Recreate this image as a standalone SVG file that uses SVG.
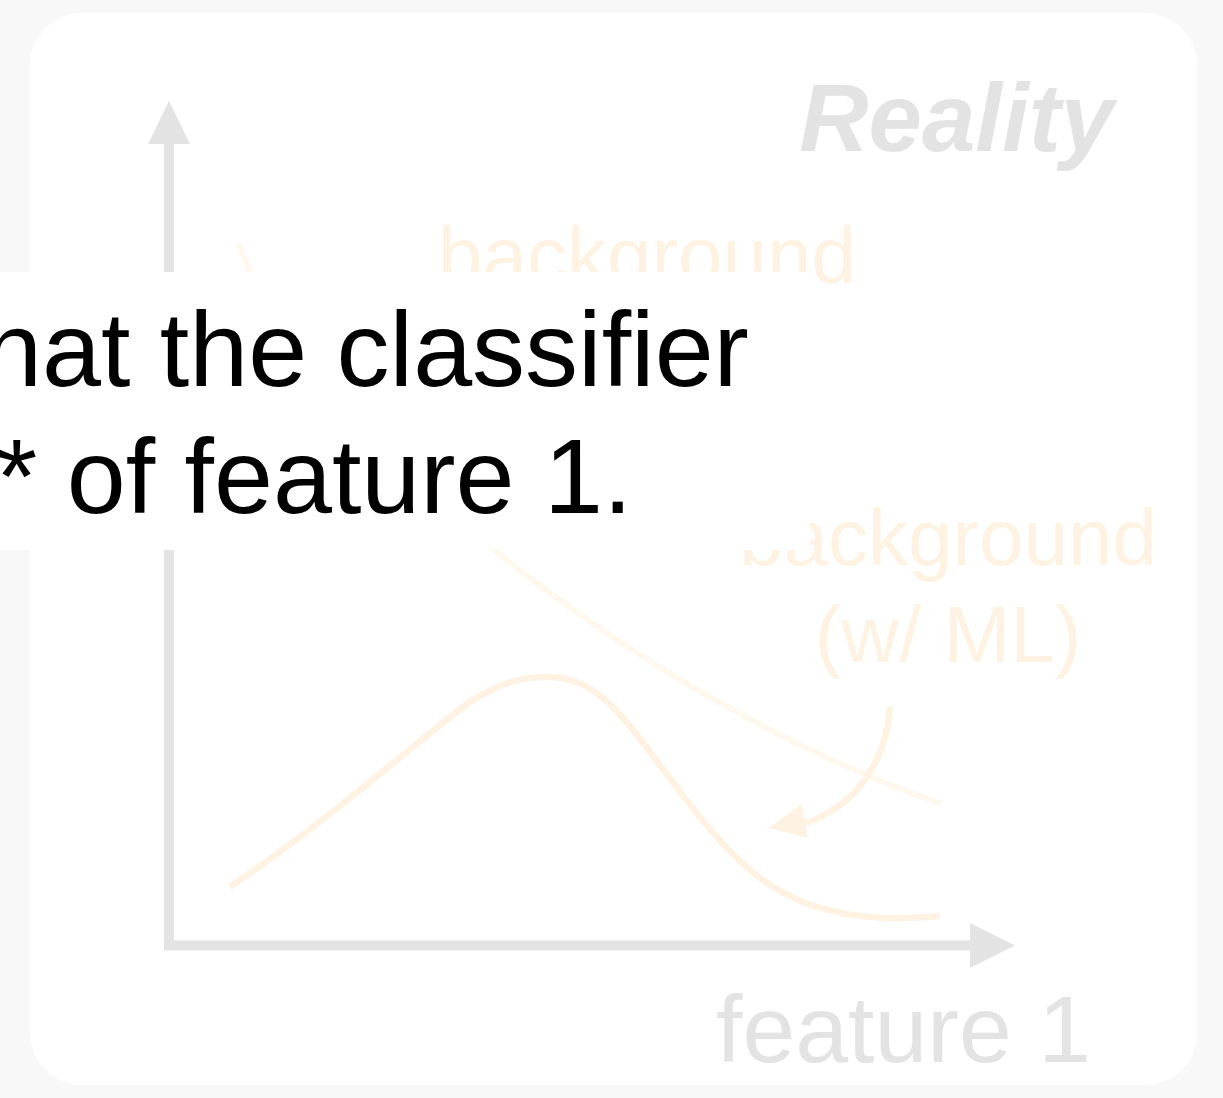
<svg xmlns="http://www.w3.org/2000/svg" width="1223" height="1098" viewBox="0 0 1223 1098">
  <style>
    .axis { stroke: #e3e3e3; stroke-width: 10; fill: none; }
    .axis-head { fill: #e3e3e3; }
    .curve { stroke: #fef3e2; stroke-width: 6.5; fill: none; stroke-linecap: butt; }
    .curve-faint { stroke: #fef8ee; stroke-width: 6; fill: none; }
    .label-gray { font-family: "Liberation Sans", Arial, sans-serif; fill: #e3e3e3; }
    .label-orange { font-family: "Liberation Sans", Arial, sans-serif; fill: #fef3e2; font-size: 80px; }
    .caption { font-family: "Liberation Sans", Arial, sans-serif; fill: #000000; font-size: 106px; }
  </style>

  <!-- page and panel -->
  <rect x="0" y="0" width="1223" height="1098" fill="#f8f8f8"/>
  <rect x="30" y="13" width="1167" height="1072" rx="52" ry="52" fill="#ffffff"/>

  <g id="title">
    <text class="label-gray" x="1114" y="151" font-size="96" font-weight="bold" font-style="italic" text-anchor="end">Reality</text>
  </g>

  <!-- plot axes -->
  <g id="axes">
    <line class="axis" x1="169" y1="140" x2="169" y2="950"/>
    <polygon class="axis-head" points="169,101 148,144 190,144"/>
    <line class="axis" x1="164" y1="945.5" x2="974" y2="945.5"/>
    <polygon class="axis-head" points="1015,945.5 970,923 970,968"/>
  </g>

  <g id="x-label">
    <text class="label-gray" x="1091" y="1062" font-size="95" text-anchor="end">feature 1</text>
  </g>

  <!-- distributions and annotations -->
  <g id="connectors">
    <path id="background-curve" class="curve-faint" d="M238,243 C330,470 680,715 942,804"/>
    <path id="signal-curve" class="curve" d="M230,887 C330,820 430,730 470,702 C505,680 525,677 548,677 C590,677 615,705 650,752 C690,806 730,860 773,887 C820,916 880,922 940,916"/>
    <path id="ml-arrow" class="curve" d="M890,707 C885,770 850,808 805,823"/>
    <polygon class="axis-head" style="fill:#fef3e2" points="769,828 801,804 808,838"/>
  </g>

  <g id="label-background-top">
    <text class="label-orange" x="647" y="283" text-anchor="middle">background</text>
  </g>
  <g id="label-background-ml">
    <text class="label-orange" x="948" y="565" text-anchor="middle">background</text>
    <text class="label-orange" x="948" y="662" text-anchor="middle">(w/ ML)</text>
  </g>

  <!-- caption box laid over the plot -->
  <g id="caption">
    <rect x="0" y="272" width="810" height="278" fill="#ffffff"/>
    <text class="caption" x="-17" y="386">hat the classifier</text>
    <text class="caption" x="-4" y="513">* of feature 1.</text>
  </g>
</svg>
